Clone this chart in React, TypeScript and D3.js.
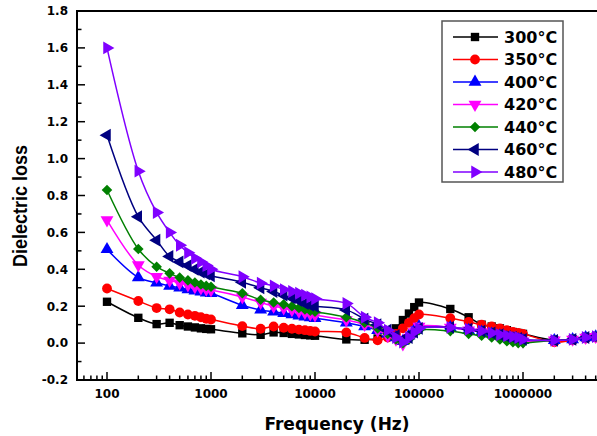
import React from "react";
import * as d3 from "d3";

const FREQS = [
  100, 200, 300, 400, 500, 600, 700, 800, 900,
  1000, 2000, 3000, 4000, 5000, 6000, 7000, 8000, 9000,
  10000, 20000, 30000, 40000, 50000, 60000, 70000, 80000, 90000,
  100000, 200000, 300000, 400000, 500000, 600000, 700000, 800000, 900000,
  1000000, 2000000, 3000000, 4000000, 5000000,
];

const LOSS_300 = [
  0.224, 0.137, 0.103, 0.11, 0.097, 0.09, 0.085, 0.08, 0.077,
  0.075, 0.053, 0.045, 0.058, 0.055, 0.05, 0.047, 0.044, 0.042,
  0.04, 0.02, 0.018, 0.025, 0.05, 0.08, 0.125, 0.16, 0.195,
  0.22, 0.185, 0.14, 0.1, 0.09, 0.08, 0.07, 0.06, 0.055,
  0.05, 0.015, 0.02, 0.03, 0.035,
];
const LOSS_350 = [
  0.296, 0.228, 0.19, 0.183, 0.166, 0.155, 0.148, 0.14, 0.132,
  0.128, 0.092, 0.078, 0.09, 0.083, 0.078, 0.073, 0.07, 0.066,
  0.063, 0.058, 0.028, 0.015, 0.03, 0.05, 0.08, 0.11, 0.135,
  0.155, 0.135, 0.115, 0.1, 0.09, 0.08, 0.07, 0.06, 0.055,
  0.05, 0.005, 0.015, 0.025, 0.03,
];
const LOSS_400 = [
  0.508, 0.356, 0.327, 0.31, 0.3, 0.29, 0.284, 0.278, 0.273,
  0.27, 0.205, 0.18, 0.17, 0.162, 0.155, 0.148, 0.142, 0.138,
  0.135, 0.11, 0.09, 0.07, 0.05, 0.03, 0.01, 0.04, 0.07,
  0.09, 0.085, 0.07, 0.06, 0.05, 0.04, 0.03, 0.025, 0.02,
  0.015, 0.015, 0.02, 0.03, 0.035,
];
const LOSS_420 = [
  0.667, 0.423, 0.36, 0.34, 0.325, 0.315, 0.305, 0.298, 0.292,
  0.288, 0.25, 0.22, 0.2, 0.19, 0.18, 0.172, 0.165, 0.158,
  0.152, 0.125, 0.1, 0.07, 0.04, 0.02, -0.005, 0.03, 0.06,
  0.09, 0.085, 0.07, 0.06, 0.05, 0.04, 0.03, 0.02, 0.015,
  0.01, 0.015, 0.02, 0.03, 0.035,
];
const LOSS_440 = [
  0.83, 0.51, 0.414, 0.378, 0.355, 0.34, 0.328, 0.318, 0.31,
  0.305, 0.27, 0.235, 0.22, 0.21, 0.2, 0.19, 0.182, 0.175,
  0.17, 0.14, 0.11, 0.08, 0.05, 0.02, 0.0, 0.02, 0.05,
  0.07, 0.065, 0.05, 0.04, 0.03, 0.02, 0.01, 0.005, 0.0,
  0.0, 0.015, 0.02, 0.03, 0.035,
];
const LOSS_460 = [
  1.127, 0.685, 0.558, 0.47, 0.44, 0.42, 0.4, 0.385, 0.375,
  0.365, 0.33, 0.3, 0.28, 0.26, 0.245, 0.23, 0.215, 0.205,
  0.2, 0.18, 0.13, 0.1, 0.07, 0.04, 0.02, 0.03, 0.06,
  0.08, 0.085, 0.075, 0.065, 0.055, 0.045, 0.035, 0.03, 0.025,
  0.02, 0.015, 0.02, 0.03, 0.035,
];
const LOSS_480 = [
  1.6, 0.932, 0.708, 0.6, 0.53, 0.49, 0.46, 0.44, 0.42,
  0.4, 0.36, 0.325, 0.31, 0.29, 0.28, 0.27, 0.26, 0.25,
  0.24, 0.215, 0.14, 0.11, 0.07, 0.03, 0.005, 0.03, 0.06,
  0.08, 0.085, 0.075, 0.065, 0.055, 0.045, 0.04, 0.035, 0.03,
  0.02, 0.015, 0.02, 0.03, 0.035,
];

const SERIES_NAMES = ["300°C", "350°C", "400°C", "420°C", "440°C", "460°C", "480°C"];
const SERIES_VALUES = [LOSS_300, LOSS_350, LOSS_400, LOSS_420, LOSS_440, LOSS_460, LOSS_480];
const SERIES_COLORS = ["#000000", "#ff0000", "#0000ff", "#ff00ff", "#008000", "#000080", "#8000ff"];
const SERIES_MARKERS = ["square", "circle", "up", "down", "diamond", "left", "right"];

const X_TICKS = [100, 1000, 10000, 100000, 1000000];
const X_TICK_LABELS = ["100", "1000", "10000", "100000", "1000000"];
const Y_TICKS = [-0.2, 0.0, 0.2, 0.4, 0.6, 0.8, 1.0, 1.2, 1.4, 1.6, 1.8];

const W = 597;
const H = 436;
const LEFT = 77;
const TOP = 11;
const BOTTOM = 380;

const HFONT = "'DejaVu Sans', sans-serif";

function markerPath(kind: string): { d: string; rot: number } {
  const tri = d3.symbol().type(d3.symbolTriangle).size(72)()!;
  switch (kind) {
    case "square":
      return { d: d3.symbol().type(d3.symbolSquare).size(70)()!, rot: 0 };
    case "circle":
      return { d: d3.symbol().type(d3.symbolCircle).size(76)()!, rot: 0 };
    case "diamond":
      return { d: d3.symbol().type(d3.symbolSquare).size(56)()!, rot: 45 };
    case "up":
      return { d: tri, rot: 0 };
    case "down":
      return { d: tri, rot: 180 };
    case "left":
      return { d: tri, rot: -90 };
    case "right":
      return { d: tri, rot: 90 };
  }
  return { d: "", rot: 0 };
}

export default function App() {
  const x = d3.scaleLog().domain([100, 1000000]).range([107, 523]);
  const y = d3.scaleLinear().domain([-0.2, 1.8]).range([BOTTOM, TOP]);

  const line = d3
    .line<number>()
    .x((_, i) => x(FREQS[i]))
    .y((d) => y(d))
    .curve(d3.curveCatmullRom.alpha(0.5));

  const minorX: number[] = [];
  for (let e = 1; e <= 6; e++) {
    for (let m = 2; m <= 9; m++) {
      const v = m * Math.pow(10, e);
      if (x(v) >= LEFT && x(v) <= W) minorX.push(v);
    }
  }
  const minorY: number[] = [];
  for (let v = -0.1; v < 1.8; v += 0.2) minorY.push(Math.round(v * 10) / 10);

  const legendX = 442;
  const legendY = 21;
  const legendW = 121;
  const legendH = 161;
  const rowY = (i: number) => 37 + i * 22.5;

  return (
    <svg
      width={W}
      height={H}
      style={{ position: "absolute", left: 0, top: 0, background: "#fff" }}
    >
      <rect x={0} y={0} width={W} height={H} fill="#fff" />
      {SERIES_VALUES.map((vals, si) => {
        const mk = markerPath(SERIES_MARKERS[si]);
        return (
          <g key={si}>
            <path
              d={line(vals) || ""}
              fill="none"
              stroke={SERIES_COLORS[si]}
              strokeWidth={1.5}
            />
            {vals.map((v, i) => (
              <path
                key={i}
                d={mk.d}
                fill={SERIES_COLORS[si]}
                transform={`translate(${x(FREQS[i])},${y(v)}) rotate(${mk.rot})`}
              />
            ))}
          </g>
        );
      })}

      <line x1={LEFT} x2={LEFT} y1={TOP - 1} y2={BOTTOM + 1} stroke="#000" strokeWidth={2} />
      <line x1={LEFT - 1} x2={W} y1={TOP} y2={TOP} stroke="#000" strokeWidth={2} />
      <line x1={LEFT - 1} x2={W} y1={BOTTOM} y2={BOTTOM} stroke="#000" strokeWidth={2} />

      {Y_TICKS.map((t) => (
        <g key={t}>
          <line x1={LEFT} x2={LEFT + 8} y1={y(t)} y2={y(t)} stroke="#000" strokeWidth={1.5} />
          <text
            transform={`translate(68,${y(t) + 4.3})`}
            textAnchor="end"
            fontFamily={HFONT}
            fontWeight="bold"
            fontSize={12}
            fill="#000"
          >
            {t.toFixed(1)}
          </text>
        </g>
      ))}
      {minorY.map((t) => (
        <line key={t} x1={LEFT} x2={LEFT + 4.5} y1={y(t)} y2={y(t)} stroke="#000" strokeWidth={1.5} />
      ))}

      {X_TICKS.map((t, i) => (
        <g key={t}>
          <line x1={x(t)} x2={x(t)} y1={BOTTOM} y2={BOTTOM - 8} stroke="#000" strokeWidth={1.5} />
          <text
            x={x(t)}
            y={398}
            textAnchor="middle"
            fontFamily={HFONT}
            fontWeight="bold"
            fontSize={12}
            fill="#000"
          >
            {X_TICK_LABELS[i]}
          </text>
        </g>
      ))}
      {minorX.map((t) => (
        <line key={t} x1={x(t)} x2={x(t)} y1={BOTTOM} y2={BOTTOM - 4.5} stroke="#000" strokeWidth={1.5} />
      ))}

      <text
        x={337}
        y={430}
        textAnchor="middle"
        fontFamily={HFONT}
        fontWeight="bold"
        fontSize={17}
        fill="#000"
      >
        Frequency (Hz)
      </text>
      <text
        transform="translate(27,206) scale(1.15,1) rotate(-90)"
        textAnchor="middle"
        fontFamily="'Liberation Sans', Arial, sans-serif"
        fontWeight="bold"
        fontSize={18}
        fill="#000"
      >
        Dielectric loss
      </text>

      <rect
        x={legendX}
        y={legendY}
        width={legendW}
        height={legendH}
        fill="#fff"
        stroke="#555"
        strokeWidth={1.5}
      />
      {SERIES_NAMES.map((name, si) => {
        const mk = markerPath(SERIES_MARKERS[si]);
        const cy = rowY(si);
        return (
          <g key={name}>
            <line x1={453} x2={498} y1={cy} y2={cy} stroke={SERIES_COLORS[si]} strokeWidth={1.5} />
            <path d={mk.d} fill={SERIES_COLORS[si]} transform={`translate(475,${cy}) rotate(${mk.rot})`} />
            <text
              x={504}
              y={cy + 5.8}
              fontFamily={HFONT}
              fontWeight="bold"
              fontSize={16}
              fill="#000"
            >
              {name}
            </text>
          </g>
        );
      })}
    </svg>
  );
}
